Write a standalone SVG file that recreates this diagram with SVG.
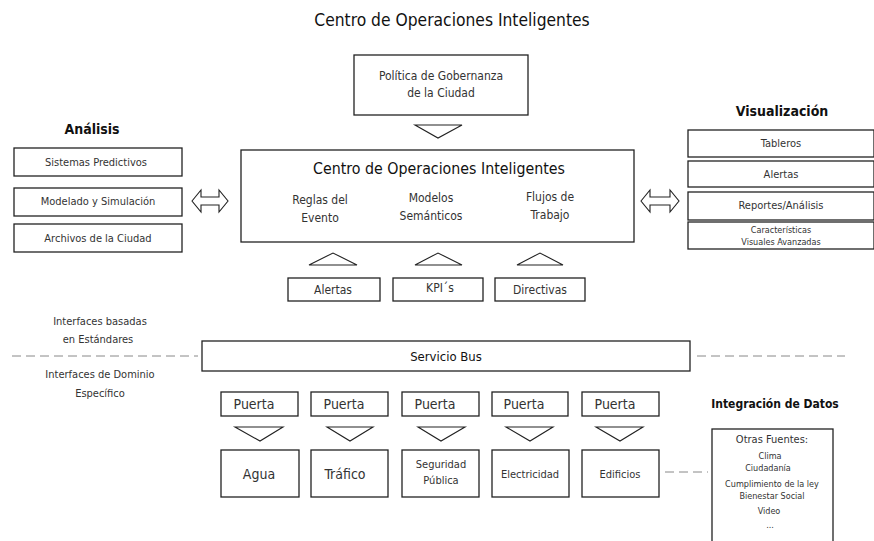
<svg xmlns="http://www.w3.org/2000/svg" width="874" height="541" viewBox="0 0 874 541">
<style>
text{font-family:"DejaVu Sans Condensed","DejaVu Sans",sans-serif;fill:#333;text-anchor:middle}
.t{fill:#111}
.b{fill:#fff;stroke:#222;stroke-width:1.3}
.tri{fill:#fff;stroke:#222;stroke-width:1.1}
.d{stroke:#888;stroke-width:1;stroke-dasharray:9,5;fill:none}
.s11{font-size:11px}
.s12{font-size:12px}
.s13{font-size:13px}
.s14{font-size:14px}
.s9{font-size:9px}
</style>
<rect width="874" height="541" fill="#fff"/>
<text class="t" x="452" y="26" font-size="17.3">Centro de Operaciones Inteligentes</text>

<g id="politica">
<rect class="b" x="354" y="55" width="174" height="60"/>
<text class="s12" x="441" y="80">Política de Gobernanza</text>
<text class="s12" x="441" y="97">de la Ciudad</text>
</g>

<g id="centro">
<rect class="b" x="241" y="150" width="393" height="92"/>
<text class="t" x="439" y="174" font-size="15.8">Centro de Operaciones Inteligentes</text>
<text class="s12" x="320" y="204">Reglas del</text>
<text class="s12" x="320" y="222">Evento</text>
<text class="s12" x="431" y="202">Modelos</text>
<text class="s12" x="431" y="220">Semánticos</text>
<text class="s12" x="550" y="201">Flujos de</text>
<text class="s12" x="550" y="219">Trabajo</text>
</g>

<g id="analisis">
<text class="t" x="92" y="134" font-size="14" font-weight="bold">Análisis</text>
<rect class="b" x="14" y="148" width="168" height="28"/>
<text class="s11" x="96" y="166">Sistemas Predictivos</text>
<rect class="b" x="14" y="188" width="168" height="28"/>
<text class="s11" x="98" y="205">Modelado y Simulación</text>
<rect class="b" x="14" y="224" width="168" height="28"/>
<text class="s11" x="98" y="242">Archivos de la Ciudad</text>
</g>

<g id="visualizacion">
<text class="t" x="782" y="116" font-size="14" font-weight="bold">Visualización</text>
<rect class="b" x="688" y="130" width="186" height="27"/>
<text class="s11" x="781" y="147">Tableros</text>
<rect class="b" x="688" y="161" width="186" height="26"/>
<text class="s11" x="781" y="178">Alertas</text>
<rect class="b" x="688" y="192" width="186" height="28"/>
<text class="s11" x="781" y="209">Reportes/Análisis</text>
<rect class="b" x="688" y="222" width="186" height="27"/>
<text class="s9" x="781" y="233">Características</text>
<text class="s9" x="781" y="245">Visuales Avanzadas</text>
</g>

<g id="alertas"><rect class="b" x="288" y="278" width="92" height="23"/><text class="s12" x="333" y="294">Alertas</text></g>
<g id="kpis"><rect class="b" x="393" y="278" width="90" height="23"/><text class="s12" x="440" y="292">KPI´s</text></g>
<g id="directivas"><rect class="b" x="495" y="278" width="90" height="23"/><text class="s12" x="540" y="294">Directivas</text></g>

<g id="interfaces">
<text class="s11" x="100" y="325">Interfaces basadas</text>
<text class="s11" x="98" y="343">en Estándares</text>
<text class="s11" x="100" y="378">Interfaces de Dominio</text>
<text class="s11" x="100" y="397">Específico</text>
</g>

<g id="bus">
<rect class="b" x="202" y="341" width="488" height="30"/>
<text class="t s13" x="446" y="361">Servicio Bus</text>
</g>

<g id="puertas">
<rect class="b" x="221" y="392" width="77" height="24"/><text class="s14" x="254" y="409">Puerta</text>
<rect class="b" x="311" y="392" width="77" height="24"/><text class="s14" x="344" y="409">Puerta</text>
<rect class="b" x="402" y="392" width="77" height="24"/><text class="s14" x="435" y="409">Puerta</text>
<rect class="b" x="492" y="392" width="76" height="24"/><text class="s14" x="524" y="409">Puerta</text>
<rect class="b" x="582" y="392" width="77" height="24"/><text class="s14" x="615" y="409">Puerta</text>
</g>

<g id="agua"><rect class="b" x="221" y="450" width="78" height="47"/><text class="s14" x="259" y="479">Agua</text></g>
<g id="trafico"><rect class="b" x="311" y="450" width="77" height="47"/><text class="s14" x="345" y="479">Tráfico</text></g>
<g id="seguridad"><rect class="b" x="402" y="450" width="77" height="47"/><text class="s11" x="441" y="468">Seguridad</text><text class="s11" x="441" y="484">Pública</text></g>
<g id="electricidad"><rect class="b" x="492" y="450" width="77" height="47"/><text class="s11" x="530" y="478">Electricidad</text></g>
<g id="edificios"><rect class="b" x="582" y="450" width="77" height="47"/><text class="s11" x="620" y="478">Edificios</text></g>

<g id="integracion">
<text class="t" x="775" y="408" font-size="12" font-weight="bold">Integración de Datos</text>
<rect class="b" x="712" y="429" width="121" height="120"/>
<text class="s11" x="772" y="443">Otras Fuentes:</text>
<text class="s9" x="770" y="459">Clima</text>
<text class="s9" x="768" y="471">Ciudadanía</text>
<text class="s9" x="772" y="487">Cumplimiento de la ley</text>
<text class="s9" x="772" y="499">Bienestar Social</text>
<text class="s9" x="769" y="514">Video</text>
<text class="s9" x="770" y="528">...</text>
</g>

<g id="connectors">
<polygon class="tri" points="415,125 462,125 438,138"/>
<polygon class="tri" points="309,265 357,265 333,253"/>
<polygon class="tri" points="415,265 462,265 438,253"/>
<polygon class="tri" points="517,265 563,265 540,253"/>
<polygon class="tri" points="235,427 283,427 260,441"/>
<polygon class="tri" points="327,427 373,427 350,441"/>
<polygon class="tri" points="418,427 465,427 441,441"/>
<polygon class="tri" points="506,427 553,427 530,441"/>
<polygon class="tri" points="596,427 643,427 620,441"/>
<path class="tri" d="M192,201 L201,190 L201,197 L219,197 L219,190 L228,201 L219,212 L219,205 L201,205 L201,212 Z"/>
<path class="tri" d="M641,201 L650,190 L650,197 L670,197 L670,190 L679,201 L670,212 L670,205 L650,205 L650,212 Z"/>
<line class="d" x1="12" y1="356" x2="198" y2="356"/>
<line class="d" x1="697" y1="356" x2="845" y2="356"/>
<line class="d" x1="665" y1="472" x2="708" y2="472"/>
</g>
</svg>
